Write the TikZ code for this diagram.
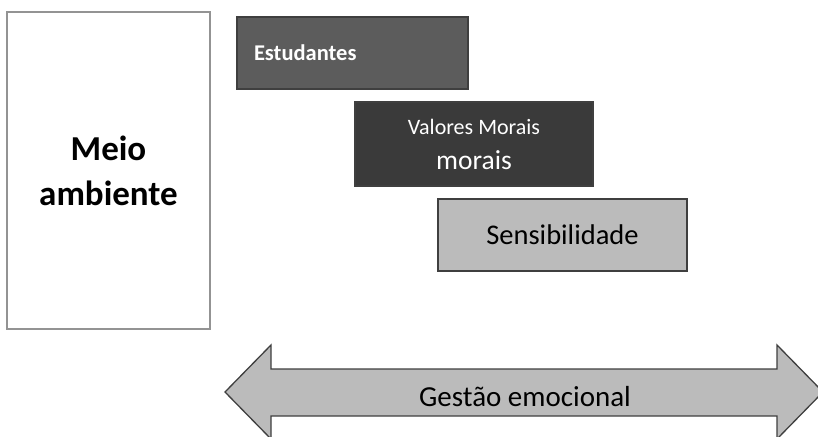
\documentclass[tikz,border=0pt]{standalone}
\usepackage{fontspec}
\setmainfont{Carlito}
\usetikzlibrary{calc}
\usetikzlibrary{positioning}

\definecolor{midgray}{HTML}{5C5C5C}
\definecolor{darkgray}{HTML}{3A3A3A}
\definecolor{lightgray}{HTML}{BBBBBB}
\definecolor{edgegray}{HTML}{3F3F3F}

\begin{document}
\begin{tikzpicture} [x=1pt,y=-1pt,
  box/.style={draw=edgegray, line width=1.3pt, rectangle, inner sep=0pt},
  fs/.style={font=\fontsize{#1}{#1}\selectfont}]
\useasboundingbox (0,0) rectangle (818,436);
\coordinate (O) at (0,0);
% environment box
\node[box, draw=gray!85, line width=1.6pt, fill=white, minimum width=203pt, minimum height=317pt,
  align=center, font=\fontsize{35}{45}\selectfont\bfseries] (meio) at (108.5,170.5) {Meio\\ambiente};
% stacked boxes
\node[box, fill=midgray, minimum width=231pt, minimum height=72pt, text width=197pt, align=left,
  text=white, font=\fontsize{22.5}{26}\selectfont\bfseries] (estud) at (352.5,53) {Estudantes};
\node[box, fill=darkgray, minimum width=238pt, minimum height=84pt, align=center, text=white,
  font=\fontsize{27.5}{35}\selectfont] (valores) at (474,144) {{\fontsize{22}{35}\selectfont Valores Morais}\\morais};
\node[box, fill=lightgray, minimum width=249pt, minimum height=72pt, fs=28.5] (sensib) at (562.5,235) {Sensibilidade};
% double arrow
\coordinate (ltip) at (225,392);
\coordinate (rtip) at (823,392);
\draw[edgegray, line width=1.3pt, fill=lightgray] (ltip) -- (271,345) -- (271,369) -- (777,369) -- (777,345)
  -- (rtip) -- (777,439) -- (777,416) -- (271,416) -- (271,439) -- cycle;
\node[fs=29, anchor=base] (gestao) at (525,406) {Gestão emocional};
\end{tikzpicture}
\end{document}
